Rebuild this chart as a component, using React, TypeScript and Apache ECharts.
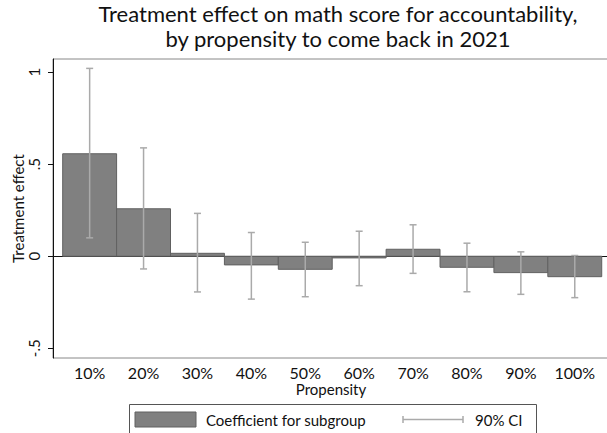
import React, { useEffect, useRef } from "react";
import * as echarts from "echarts";

const propensity = [10, 20, 30, 40, 50, 60, 70, 80, 90, 100];
const coef = [0.557, 0.258, 0.016, -0.047, -0.071, -0.009, 0.038, -0.06, -0.089, -0.111];
const ciLow = [0.1, -0.069, -0.194, -0.233, -0.22, -0.16, -0.093, -0.193, -0.207, -0.225];
const ciHigh = [1.021, 0.589, 0.233, 0.129, 0.076, 0.136, 0.171, 0.071, 0.024, 0.004];
const yTicks = [-0.5, 0, 0.5, 1];
const yTickLabels = ["-.5", "0", ".5", "1"];

const FONT = "Lato";
const BAR_FILL = "#808080";
const BAR_STROKE = "#606060";
const CI_COLOR = "#aaaaaa";

export default function App() {
  const ref = useRef<HTMLDivElement>(null);
  useEffect(() => {
    if (!ref.current) return;
    const chart = echarts.init(ref.current, null, { renderer: "svg" });
    const barData = propensity.map((p, i) => [p, coef[i]]);
    const ciData = propensity.map((p, i) => [p, ciLow[i], ciHigh[i]]);
    const option: any = {
      animation: false,
      backgroundColor: "#ffffff",
      title: {
        text: "Treatment effect on math score for accountability,\nby propensity to come back in 2021",
        left: 333,
        top: -4,
        textAlign: "center",
        textStyle: {
          fontFamily: FONT,
          fontSize: 22,
          lineHeight: 25,
          fontWeight: "normal",
          color: "#111111",
        },
      },
      grid: {
        left: 53,
        right: -2,
        top: 59,
        bottom: 75,
        show: true,
        borderColor: "#888888",
        borderWidth: 1,
        containLabel: false,
        outerBoundsMode: "none",
      },
      xAxis: {
        type: "value",
        min: 3.2,
        max: 106.35,
        name: "Propensity",
        nameLocation: "middle",
        nameGap: 24,
        nameMoveOverlap: false,
        nameTextStyle: { fontFamily: FONT, fontSize: 15, lineHeight: 14, color: "#111111" },
        splitLine: { show: false },
        axisLine: { show: true, lineStyle: { color: "#111111", width: 1 } },
        axisTick: { show: false },
        axisLabel: {
          customValues: propensity,
          formatter: (v: number) => `${Math.round(v)}%`,
          fontFamily: FONT,
          fontSize: 16,
          lineHeight: 12,
          color: "#111111",
          margin: 8,
        },
      },
      yAxis: {
        type: "value",
        min: -0.553,
        max: 1.072,
        name: "Treatment effect",
        nameLocation: "middle",
        nameRotate: 90,
        nameGap: 28,
        nameMoveOverlap: false,
        nameTextStyle: { fontFamily: FONT, fontSize: 15, color: "#111111" },
        splitLine: { show: false },
        axisLine: { show: true, lineStyle: { color: "#111111", width: 1 } },
        axisTick: { show: true, customValues: yTicks, length: 5, lineStyle: { color: "#111111" } },
        axisLabel: {
          customValues: yTicks,
          formatter: (v: number) => {
            const i = yTicks.findIndex((t) => Math.abs(t - v) < 1e-6);
            return i >= 0 ? yTickLabels[i] : "";
          },
          rotate: 90,
          fontFamily: FONT,
          fontSize: 15,
          color: "#111111",
          margin: 12,
        },
      },
      series: [
        {
          type: "custom",
          name: "Coefficient for subgroup",
          data: barData,
          renderItem: (params: any, api: any) => {
            const x = api.value(0);
            const v = api.value(1);
            const p0 = api.coord([x - 5, 0]);
            const p1 = api.coord([x + 5, v]);
            return {
              type: "rect",
              shape: {
                x: p0[0],
                y: Math.min(p0[1], p1[1]),
                width: p1[0] - p0[0],
                height: Math.max(Math.abs(p1[1] - p0[1]), 1),
              },
              style: { fill: BAR_FILL, stroke: BAR_STROKE, lineWidth: 1 },
            };
          },
        },
        {
          type: "custom",
          name: "90% CI",
          data: ciData,
          renderItem: (params: any, api: any) => {
            const x = api.value(0);
            const lo = api.coord([x, api.value(1)]);
            const hi = api.coord([x, api.value(2)]);
            const cap = 3.5;
            const st = { stroke: CI_COLOR, lineWidth: 1.5 };
            return {
              type: "group",
              children: [
                { type: "line", shape: { x1: lo[0], y1: lo[1], x2: hi[0], y2: hi[1] }, style: st },
                { type: "line", shape: { x1: lo[0] - cap, y1: lo[1], x2: lo[0] + cap, y2: lo[1] }, style: st },
                { type: "line", shape: { x1: hi[0] - cap, y1: hi[1], x2: hi[0] + cap, y2: hi[1] }, style: st },
              ],
            };
          },
        },
      ],
      graphic: [
        {
          type: "rect",
          shape: { x: 129.5, y: 404.5, width: 407, height: 40 },
          style: { fill: "#ffffff", stroke: "#555555", lineWidth: 1 },
        },
        {
          type: "rect",
          shape: { x: 135, y: 412, width: 61, height: 15 },
          style: { fill: BAR_FILL, stroke: BAR_STROKE, lineWidth: 1 },
        },
        {
          type: "text",
          x: 206,
          y: 420,
          style: { text: "Coefficient for subgroup", fontFamily: FONT, fontSize: 15, fill: "#111111", verticalAlign: "middle" },
        },
        { type: "line", shape: { x1: 403, y1: 419.5, x2: 463, y2: 419.5 }, style: { stroke: CI_COLOR, lineWidth: 1.5 } },
        { type: "line", shape: { x1: 403, y1: 416, x2: 403, y2: 423 }, style: { stroke: CI_COLOR, lineWidth: 1.5 } },
        { type: "line", shape: { x1: 463, y1: 416, x2: 463, y2: 423 }, style: { stroke: CI_COLOR, lineWidth: 1.5 } },
        {
          type: "text",
          x: 475,
          y: 420,
          style: { text: "90% CI", fontFamily: FONT, fontSize: 15, fill: "#111111", verticalAlign: "middle" },
        },
      ],
    };
    chart.setOption(option);
    return () => chart.dispose();
  }, []);
  return <div ref={ref} style={{ position: "fixed", left: 0, top: 0, width: 607, height: 433 }} />;
}
